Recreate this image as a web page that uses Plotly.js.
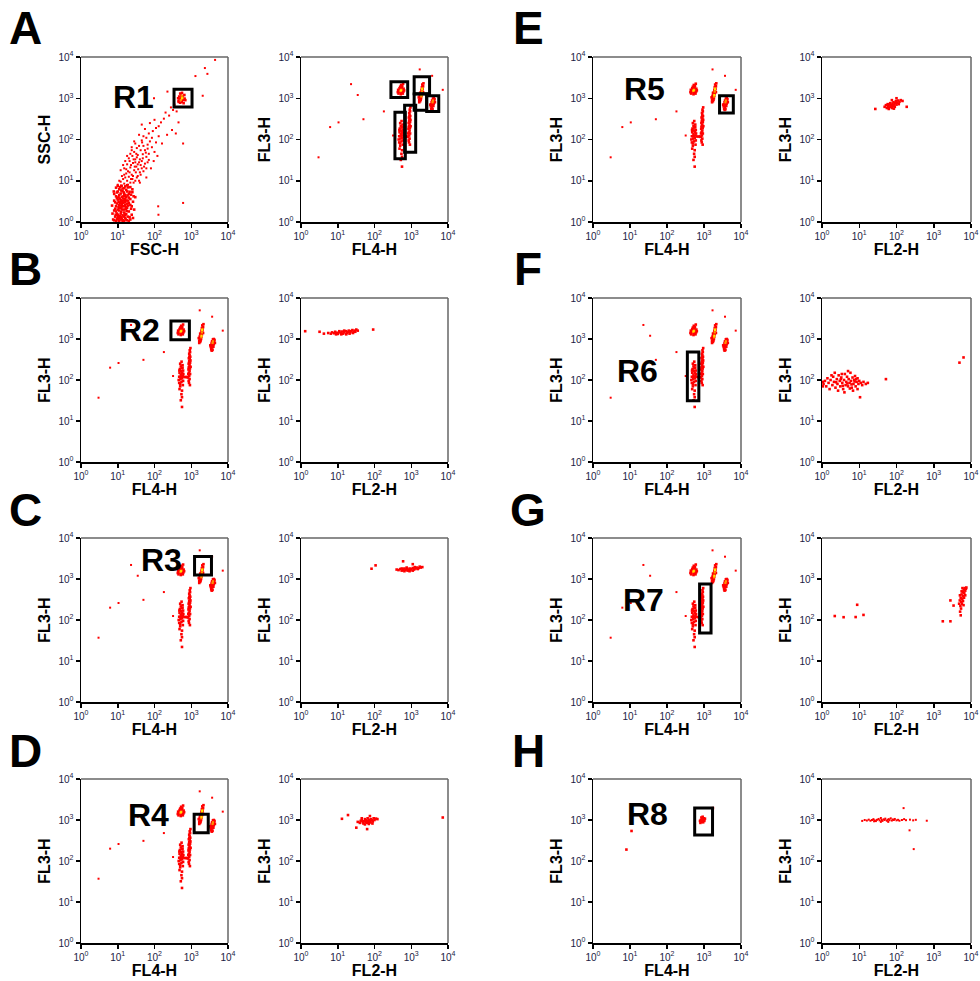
<!DOCTYPE html>
<html><head><meta charset="utf-8">
<script src="https://cdn.plot.ly/plotly-3.0.1.min.js"></script>
<style>html,body{margin:0;padding:0;background:#fff}#chart{width:980px;height:981px}</style>
</head><body><div id="chart"></div>
<script>
// ---------------- DATA (in instrument units) ----------------
const tickVals = [1, 10, 100, 1000, 10000];
const tickText = ['10<sup>0</sup>', '10<sup>1</sup>', '10<sup>2</sup>', '10<sup>3</sup>', '10<sup>4</sup>'];

// Panel A left: FSC-H vs SSC-H
const fscCore = [[8,1.1],[9.5,1.2],[11,1.05],[12.5,1.3],[14,1.1],[16,1.25],[18,1.1],[21,1.3],[10,1.5],[12,1.6],[13.5,1.45],[15,1.7],[9,1.8],[11,1.9],[17,1.55],[20,1.8],[24,1.5],[8.5,2.1],[10.5,2.3],[12.5,2.2],[14.5,2.4],[16.5,2.1],[19,2.5],[9.5,2.8],[11.5,2.9],[13,2.7],[15.5,3],[18,2.8],[22,2.6],[8,3.3],[10,3.5],[12,3.4],[14,3.7],[17,3.3],[20,3.9],[26,3.1],[9,4.2],[11,4.5],[13,4.1],[15,4.8],[18.5,4.4],[23,4.6],[10,5.5],[12.5,5.8],[14.5,5.2],[17,6],[21,5.4],[9,6.8],[11.5,7],[13.5,6.5],[16,7.3],[19,6.9],[25,6.2],[28,2],[30,4],[7,2.5],[7.2,1.6],[13,1.2],[11,2.6],[15,2],[12,3],[10,1.3],[9,1.05],[15,1.05],[20,1.05],[17,2.3],[23,2.1]];
const fscCoreFill = [[7.5,1.15],[8.5,1.35],[9.5,1.6],[10.5,1.1],[11.5,1.4],[12.5,1.75],[13.5,1.05],[14.5,1.35],[15.5,1.55],[16.5,1.15],[17.5,1.85],[19,1.35],[22,1.15],[26,1.25],[8,1.9],[9,2.4],[10,2.0],[11,2.2],[12,2.5],[13,2.0],[14,2.9],[16,2.6],[18,2.2],[20,2.9],[24,2.4],[8.5,3.0],[9.5,3.8],[10.5,3.1],[11.5,3.7],[13,3.2],[14.5,4.2],[16,3.6],[19,3.3],[22,3.6],[27,4.2],[8,4.8],[9.5,5.2],[10.5,4.0],[12,4.9],[13.5,5.6],[16,4.5],[18,5.5],[20,4.8],[25,5.3],[11,6.2],[12.5,7.6],[15,6.6],[18,7.8],[22,7],[10,7.5],[7.8,5.5],[8.8,1.5],[13,2.4],[15,3.3],[17,4],[12,1.15],[16,1.45],[11,1.25]];
const fscSpread = [[10,8],[12,9.5],[15,8.5],[18,10],[22,9],[14,11],[20,12.5],[25,11],[30,10],[13,13],[17,15],[24,14],[35,13],[19,17],[28,18],[40,16],[15,20],[22,21],[32,22],[45,20],[18,25],[26,27],[38,28],[55,26],[21,30],[30,33],[48,35],[25,40],[35,42],[60,38],[28,50],[42,55],[70,45],[33,62],[50,70],[24,65],[16,30],[12,18],[40,9],[60,12],[80,20],[95,30],[100,50],[85,65],[120,40],[11,10],[13,7.5],[16,12],[19,8],[23,11],[27,9],[33,12],[38,10],[15,14],[21,16],[26,13],[31,16],[36,19],[42,14],[50,17],[17,19],[23,24],[29,22],[35,25],[42,24],[52,22],[65,28],[20,35],[27,33],[33,37],[40,33],[48,44],[58,48],[30,28],[45,30],[55,55],[38,70],[46,85],[65,60],[75,90],[85,110],[22,45],[32,45],[28,90],[50,120],[65,75],[110,85],[130,120],[60,20],[70,32],[14,24],[18,40],[24,55]];
const fscUpper = [[30,80],[45,95],[60,110],[38,130],[70,140],[90,160],[55,180],[110,190],[130,210],[45,230],[75,250],[150,260],[100,300],[180,320],[250,380],[200,450],[320,520],[280,600],[400,480],[350,700],[450,800],[300,170],[220,130],[160,80],[126,2.4],[128,1.5],[600,2.9],[600,80],[450,260],[380,140],[2350,5400],[2750,3900],[4450,8500],[1300,3450],[2050,1150],[225,1450],[97,1000]];
const fscGateRed = [[450,850],[500,780],[560,820],[620,760],[480,950],[540,1000],[600,920],[660,980],[470,1100],[530,1150],[590,1080],[650,1200],[500,1300],[560,1350],[690,900],[440,1000]];
const fscGateOrange = [[520,900],[580,1050],[550,1150]];
const fscGateYellow = [[560,1000]];

// FL4-H vs FL3-H bead populations (same acquisition shown in A right, B–G left)
const beadTop = [[450,1300],[520,1250],[590,1300],[470,1450],[540,1420],[610,1450],[440,1600],[510,1580],[580,1620],[480,1750],[550,1780],[620,1700],[500,1900],[570,1950],[530,2100],[600,2250],[460,1500],[560,1350],[640,1550],[430,1400]];
const beadUpperMid = [[1650,800],[1750,850],[1800,920],[1700,980],[1850,1000],[1750,1080],[1900,1150],[1800,1250],[1950,1300],[1850,1400],[2000,1500],[1900,1600],[2050,1700],[1950,1850],[2100,1950],[2000,2150],[2150,2300],[1700,1150],[1650,900],[2100,1400],[1750,1350],[1600,1050]];
const beadRight = [[3500,560],[3800,540],[3400,640],[3700,620],[4000,650],[3500,720],[3800,700],[4100,740],[3600,800],[3900,820],[4200,830],[3700,880],[4000,900],[4300,950],[3900,980],[3600,520],[4100,1000],[3300,700],[4400,800]];
const beadLowLeft = [[480,60],[560,55],[500,70],[590,75],[470,85],[540,90],[600,95],[510,105],[560,110],[470,120],[590,125],[520,135],[480,150],[570,150],[530,165],[600,170],[490,185],[550,195],[520,215],[580,230],[500,250],[545,280],[540,45],[560,38],[520,32],[560,22],[455,100],[610,140],[500,80],[530,120],[580,200],[475,170],[650,118],[720,118],[780,118]];
const beadLowRight = [[850,95],[900,105],[820,115],[880,125],[930,140],[860,150],[900,165],[840,180],[920,190],[870,210],[900,230],[850,250],[930,265],[880,290],[910,320],[860,340],[940,370],[900,400],[880,440],[930,480],[910,530],[950,600],[870,85],[920,75],[880,270],[960,210],[830,140],[890,360],[950,300],[860,200]];
const beadStray = [[3,37],[6.2,200],[10.5,260],[23,2200],[35,1200],[50,310],[180,480],[320,125],[1700,5000],[3700,3500],[7200,1600]];
const beadOrange = [[510,1500],[540,1600],[1880,1100],[1950,1450],[2000,1750],[3800,800],[3900,880]];
const beadYellow = [[525,1550],[1900,1200],[1980,1650]];

// Sorted-gate FL2-H vs FL3-H (right panels) and R8 FL4/FL3
const sortR2 = [[5.5,1400],[6.5,1350],[7,1450],[8,1380],[8.5,1500],[9.5,1420],[10,1330],[11,1480],[12,1400],[13,1520],[14,1350],[15,1450],[16.5,1550],[18,1400],[19,1500],[20,1600],[22,1450],[23,1550],[25,1650],[27,1500],[29,1600],[32,1700],[35,1600],[12.5,1300],[17,1300],[21,1350],[9,1300],[26,1400],[30,1500],[11,1550],[15,1600],[1.3,1550],[3.2,1500],[92,1700],[4.2,1350]];
const sortR3 = [[400,1700],[450,1650],[500,1750],[550,1600],[600,1700],[650,1800],[700,1650],[750,1750],[800,1600],[850,1700],[900,1800],[950,1650],[1000,1750],[1100,1850],[1200,1700],[1300,1800],[1400,1900],[1500,1750],[1600,1850],[1800,1900],[2000,1950],[650,1550],[900,1550],[1100,1600],[1250,1950],[750,1900],[550,1800],[1700,2000],[83,1780],[107,2150],[600,2700],[1100,2300]];
const sortR4 = [[35,900],[40,850],[42,950],[45,1000],[48,880],[50,820],[52,930],[55,1050],[58,900],[60,980],[62,850],[65,1100],[68,940],[70,880],[72,1010],[75,960],[78,870],[80,1050],[85,990],[90,920],[95,1100],[100,1000],[110,1080],[120,1050],[55,780],[70,800],[45,1100],[88,820],[13,1070],[19,1320],[32,650],[63,600],[7200,1150],[75,1250]];
const sortR5 = [[48,620],[52,680],[55,580],[58,720],[60,650],[63,600],[66,700],[68,760],[70,620],[73,680],[76,580],[78,740],[80,650],[83,800],[86,700],[90,620],[93,760],[96,850],[100,700],[105,780],[110,880],[120,820],[130,900],[145,860],[62,550],[85,560],[75,900],[115,720],[27,550],[188,620],[100,1000]];
const sortR6 = [[1.1,80],[1.2,95],[1.3,70],[1.4,110],[1.5,85],[1.6,60],[1.7,100],[1.9,75],[2,120],[2.1,90],[2.3,65],[2.5,105],[2.6,80],[2.8,130],[3,95],[3.1,70],[3.3,115],[3.5,85],[3.7,60],[3.9,100],[4.1,140],[4.3,75],[4.5,90],[4.7,120],[5,70],[5.2,105],[5.5,85],[5.8,150],[6,95],[6.3,65],[6.6,115],[7,80],[7.3,100],[7.7,125],[8,70],[8.5,90],[9,110],[9.5,80],[10,95],[11,85],[12,75],[13,90],[15,80],[17,85],[2.2,150],[3.4,140],[5,165],[6.8,55],[2.7,55],[1.8,130],[4,50],[9,60],[1.05,70],[1.05,90],[2.4,88],[3.6,72],[4.8,82],[6.2,78],[7.5,92],[5.6,62],[3.2,105],[8.2,105],[52,105],[10.5,38],[4900,265],[6300,355]];
const sortR7 = [[4800,250],[5000,300],[5200,220],[5300,350],[5500,280],[5600,420],[5800,330],[6000,480],[6200,380],[6400,550],[6600,450],[6800,600],[7000,520],[7300,580],[5400,190],[5100,160],[5300,130],[5700,250],[6100,290],[5900,600],[6500,350],[7500,620],[5050,400],[5600,500],[7000,400],[6300,230],[2.2,125],[3.8,117],[8,118],[8.8,235],[13,133],[1750,93],[2800,93],[2800,300],[3400,225]];
const sortR8 = [[12,950],[14,1000],[16,970],[18,1020],[20,960],[22,1000],[24,1050],[26,980],[28,940],[30,1010],[33,1060],[35,980],[38,1120],[40,1000],[42,950],[45,1040],[48,1000],[50,1080],[55,960],[58,1010],[62,1050],[65,990],[70,1100],[75,970],[80,1030],[85,1000],[90,1060],[100,980],[110,1010],[120,960],[140,1000],[160,1050],[180,990],[230,1020],[280,980],[330,1010],[650,960],[38,900],[60,900],[25,930],[155,1950],[224,560],[290,195]];
const gateR8Fl4 = [[780,950],[820,1000],[860,900],[900,1050],[940,980],[980,1100],[1020,950],[850,1150],[920,1200],[1000,1020],[800,850],[950,880],[1060,1080],[8,190],[11,540],[1740,1950]];

// Gates [xmin, xmax, ymin, ymax] in data units
const gateR1 = [340, 1050, 615, 1660];
const gateR2 = [280, 890, 955, 2750];
const gateR3 = [1230, 3550, 1260, 3550];
const gateR4 = [1200, 2900, 490, 1380];
const gateR5 = [2630, 6200, 440, 1150];
const gateR6 = [355, 725, 31, 480];
const gateR7 = [760, 1550, 48, 760];
const gateR8 = [560, 1700, 430, 1950];
const overviewGates = [[280,800,1050,2500],[1200,3150,1290,3300],[1200,2630,510,1260],[2630,5600,480,1150],[360,690,34,460],[660,1320,49,680]];

// ---------------- LAYOUT ----------------
const W = 980, H = 981;
const FONT = 'Arial, "Liberation Sans", sans-serif';
const colPx = [[81,228],[301,448],[593,741],[822,971]];
const rowPx = [[57,222],[298,462],[538,702],[779,943]];
const RED = '#ff0000', ORANGE = '#ff9000', YELLOW = '#ffe600';
const DENSE = 2.6, SPARSE = 2, CORE = 2.2;

const fscSet = [[fscCore,RED,DENSE],[fscCoreFill,RED,DENSE],[fscSpread,RED,SPARSE],[fscUpper,RED,SPARSE],[fscGateRed,RED,DENSE],[fscGateOrange,ORANGE,CORE],[fscGateYellow,YELLOW,CORE]];
const beadSet = [[beadTop,RED,DENSE],[beadUpperMid,RED,DENSE],[beadRight,RED,DENSE],[beadLowLeft,RED,DENSE],[beadLowRight,RED,DENSE],[beadStray,RED,SPARSE],[beadOrange,ORANGE,CORE],[beadYellow,YELLOW,CORE]];

const panels = [
  {r:0,c:0,xt:'FSC-H',yt:'SSC-H',set:fscSet,gates:[gateR1],label:['R1',133,97],letter:['A',25,28]},
  {r:0,c:1,xt:'FL4-H',yt:'FL3-H',set:beadSet,gates:overviewGates},
  {r:0,c:2,xt:'FL4-H',yt:'FL3-H',set:beadSet,gates:[gateR5],label:['R5',644,89],letter:['E',528,28]},
  {r:0,c:3,xt:'FL2-H',yt:'FL3-H',set:[[sortR5,RED,DENSE]]},
  {r:1,c:0,xt:'FL4-H',yt:'FL3-H',set:beadSet,gates:[gateR2],label:['R2',139,330],letter:['B',25,269]},
  {r:1,c:1,xt:'FL2-H',yt:'FL3-H',set:[[sortR2,RED,DENSE]]},
  {r:1,c:2,xt:'FL4-H',yt:'FL3-H',set:beadSet,gates:[gateR6],label:['R6',637,371],letter:['F',528,269]},
  {r:1,c:3,xt:'FL2-H',yt:'FL3-H',set:[[sortR6,RED,DENSE]]},
  {r:2,c:0,xt:'FL4-H',yt:'FL3-H',set:beadSet,gates:[gateR3],label:['R3',161,560],letter:['C',25,510]},
  {r:2,c:1,xt:'FL2-H',yt:'FL3-H',set:[[sortR3,RED,DENSE]]},
  {r:2,c:2,xt:'FL4-H',yt:'FL3-H',set:beadSet,gates:[gateR7],label:['R7',643,600],letter:['G',528,510]},
  {r:2,c:3,xt:'FL2-H',yt:'FL3-H',set:[[sortR7,RED,DENSE]]},
  {r:3,c:0,xt:'FL4-H',yt:'FL3-H',set:beadSet,gates:[gateR4],label:['R4',148,815],letter:['D',25,751]},
  {r:3,c:1,xt:'FL2-H',yt:'FL3-H',set:[[sortR4,RED,DENSE]]},
  {r:3,c:2,xt:'FL4-H',yt:'FL3-H',set:[[gateR8Fl4,RED,DENSE]],gates:[gateR8],label:['R8',647,814],letter:['H',528,751]},
  {r:3,c:3,xt:'FL2-H',yt:'FL3-H',set:[[sortR8,RED,SPARSE]]}
];

const traces = [];
const layout = {
  width: W, height: H, margin: {l:0, r:0, t:0, b:0},
  paper_bgcolor: '#fff', plot_bgcolor: '#fff', showlegend: false,
  font: {family: FONT, color: '#000'},
  shapes: [], annotations: []
};

panels.forEach((p, i) => {
  const s = i === 0 ? '' : String(i + 1);
  const xa = 'x' + s, ya = 'y' + s;
  const [x0, x1] = colPx[p.c], [y0, y1] = rowPx[p.r];
  const axisCommon = {
    type: 'log', range: [0, 4], tickmode: 'array', tickvals: tickVals, ticktext: tickText,
    ticks: 'outside', ticklen: 4, tickwidth: 1.5, tickcolor: '#000',
    showline: true, linecolor: '#000', linewidth: 1.5, mirror: false,
    showgrid: false, zeroline: false, fixedrange: true,
    tickfont: {family: FONT, size: 10, color: '#222244'}
  };
  layout['xaxis' + s] = Object.assign({}, axisCommon, {
    domain: [x0 / W, x1 / W], anchor: ya,
    title: {text: p.xt, standoff: 2, font: {family: FONT, size: 16, weight: 'bold', color: '#000'}}
  });
  layout['yaxis' + s] = Object.assign({}, axisCommon, {
    domain: [1 - y1 / H, 1 - y0 / H], anchor: xa,
    title: {text: p.yt, standoff: 4, font: {family: FONT, size: 16, weight: 'bold', color: '#000'}}
  });
  p.set.forEach(([pts, col, size]) => {
    traces.push({
      type: 'scatter', mode: 'markers', xaxis: xa, yaxis: ya,
      x: pts.map(d => d[0]), y: pts.map(d => d[1]),
      marker: {color: col, size: size, symbol: 'square', line: {width: 0}},
      hoverinfo: 'x+y'
    });
  });
  // grey top and right frame
  const dx = xa + ' domain', dy = ya + ' domain';
  layout.shapes.push({type:'line', xref:dx, yref:dy, x0:0, x1:1, y0:1, y1:1, line:{color:'#666', width:1.5}});
  layout.shapes.push({type:'line', xref:dx, yref:dy, x0:1, x1:1, y0:0, y1:1, line:{color:'#666', width:1.5}});
  (p.gates || []).forEach(g => {
    layout.shapes.push({type:'rect', xref:xa, yref:ya, x0:g[0], x1:g[1], y0:g[2], y1:g[3], line:{color:'#000', width:3}, fillcolor:'rgba(0,0,0,0)'});
  });
  if (p.label) {
    layout.annotations.push({xref:'paper', yref:'paper', x:p.label[1]/W, y:1-p.label[2]/H, text:'<b>'+p.label[0]+'</b>', showarrow:false, xanchor:'center', yanchor:'middle', font:{family:FONT, size:32, color:'#000'}});
  }
  if (p.letter) {
    layout.annotations.push({xref:'paper', yref:'paper', x:p.letter[1]/W, y:1-p.letter[2]/H, text:'<b>'+p.letter[0]+'</b>', showarrow:false, xanchor:'center', yanchor:'middle', font:{family:FONT, size:46, color:'#000'}});
  }
});

Plotly.newPlot('chart', traces, layout, {staticPlot: true, displayModeBar: false});
</script></body></html>
